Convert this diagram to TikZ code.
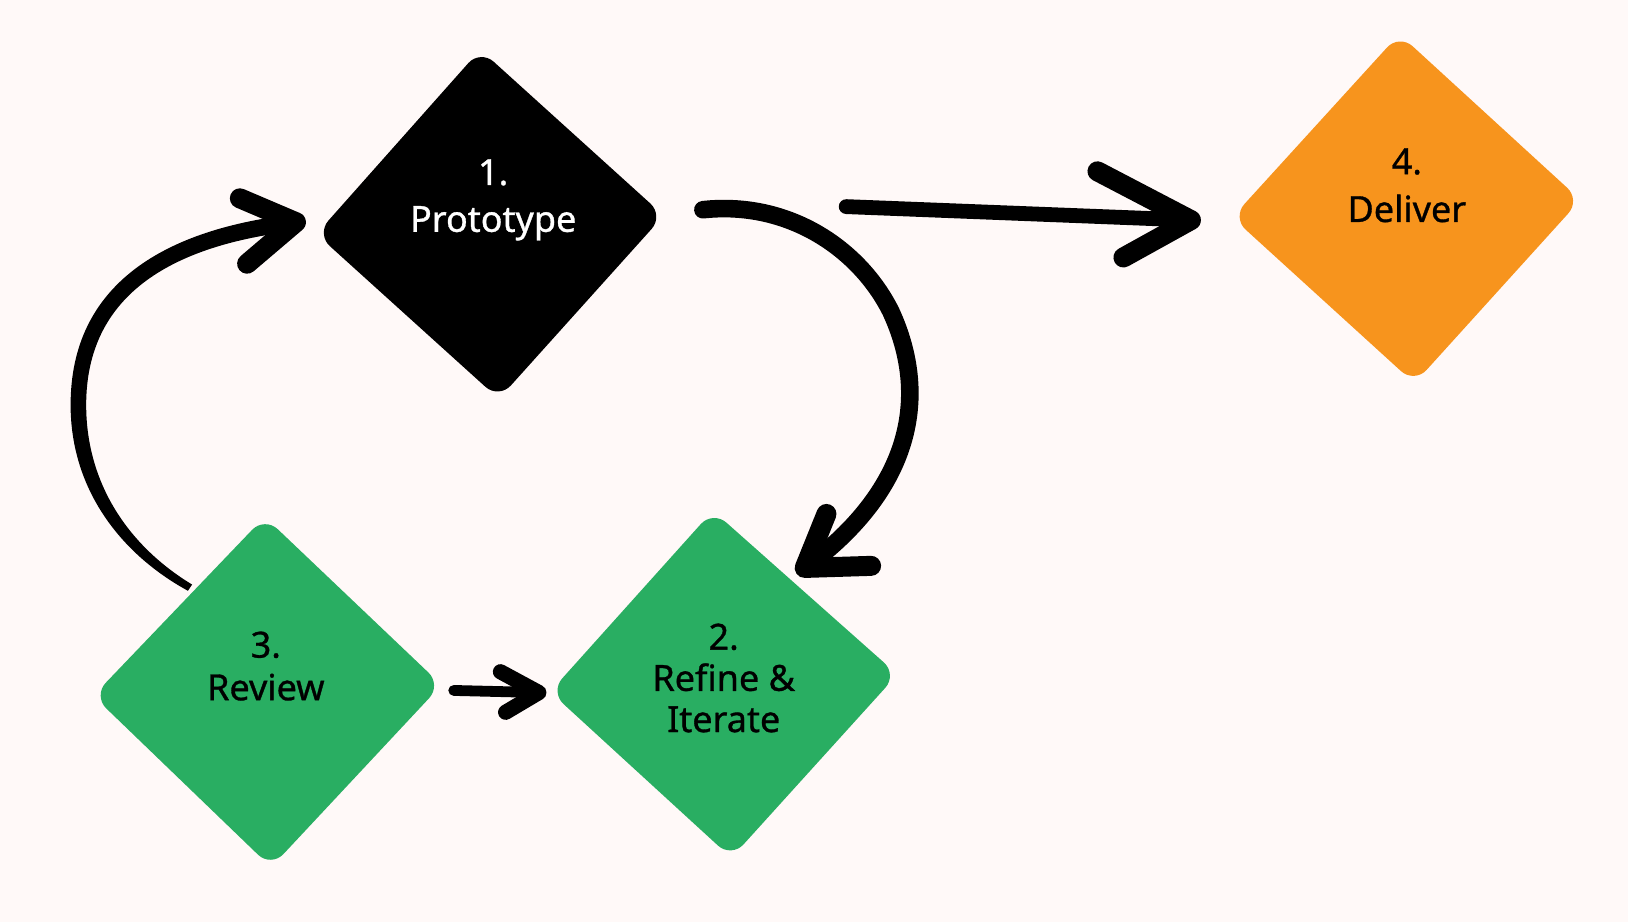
\documentclass[tikz,border=0pt]{standalone}
\usepackage{fontspec}
\setmainfont{Noto Sans}
\newfontfamily\lblfont{Noto Sans}[FakeBold=0.9]
\definecolor{bg}{HTML}{FFF9F8}
\definecolor{stepgreen}{HTML}{29AE62}
\definecolor{steporange}{HTML}{F7941D}
\begin{document}
\begin{tikzpicture}[x=0.5191pt,y=-0.5191pt,
  shapebox/.style={rounded corners=9pt},
  lbl/.style={align=center,inner sep=0pt},
  conn/.style={line width=8.8pt,line cap=round,line join=round,draw=black},
  tip/.style={line width=10pt,line cap=round,line join=round,draw=black}]
\fill[bg] (0,0) rectangle (1568,888);
\useasboundingbox (0,0) rectangle (1568,888);
% shapes
\fill[black,shapebox] (462.6,47.8) -- (639.2,207.6) -- (480.4,384.2) -- (304.8,225.4) -- cycle;
\fill[stepgreen,shapebox] (686.6,491.8) -- (864.3,649.6) -- (704.4,826.2) -- (529.9,666.3) -- cycle;
\fill[stepgreen,shapebox] (254.9,497.7) -- (425.2,659.7) -- (261.1,835.3) -- (89.8,670.2) -- cycle;
\fill[steporange,shapebox] (1347.7,32.8) -- (1522.2,192.6) -- (1362.3,369.2) -- (1186.8,209.4) -- cycle;
% labels
\node[lbl,text=white,font=\lblfont\fontsize{18pt}{23.4pt}\selectfont] (proto) at (475,192.5) {1.\\Prototype};
\node[lbl,font=\lblfont\fontsize{18pt}{20.6pt}\selectfont] (refine) at (697,653) {2.\\Refine \&\\Iterate};
\node[lbl,font=\lblfont\fontsize{18pt}{21.3pt}\selectfont] (review) at (256,641.5) {3.\\Review};
\node[lbl,font=\lblfont\fontsize{18pt}{23.9pt}\selectfont] (deliver) at (1355,178.5) {4.\\Deliver};
% connector end points
\coordinate (a0) at (183,566);
\coordinate (a1) at (76,390);
\coordinate (a2) at (285,214);
\coordinate (b0) at (677,202);
\coordinate (b1) at (858,300);
\coordinate (b2) at (775,547);
\coordinate (c0) at (815,199);
\coordinate (c1) at (1147,212);
\coordinate (d0) at (437,665);
\coordinate (d1) at (519,667);
% review -> prototype (tapered stroke)
\fill[black] (181,569) .. controls (117,534) and (68,472) .. (68,390)
  .. controls (68,274) and (158,220) .. (287,206)
  -- (288,222) .. controls (162,236) and (83,286) .. (83,390)
  .. controls (83,466) and (124,526) .. (185,563) -- cycle;
\draw[tip] (231,191) -- (a2) -- (238,254);
% prototype -> refine
\draw[conn] (b0) .. controls (760,193) and (828,240) .. (b1)
  .. controls (895,380) and (880,470) .. (b2);
\draw[tip] (796,495) -- (b2) -- (839,545);
% prototype -> deliver
\draw[conn,line width=7.4pt] (c0) -- (c1);
\draw[tip] (1057,165) -- (c1) -- (1082,248);
% review -> refine
\draw[conn,line width=5.4pt] (d0) -- (d1);
\draw[tip,line width=7.6pt] (482,647) -- (d1) -- (487,686);
\end{tikzpicture}
\end{document}
